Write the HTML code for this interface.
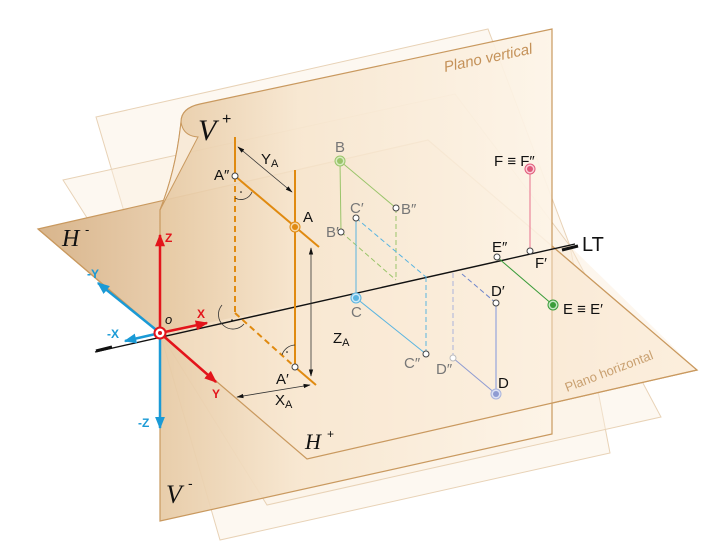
<!DOCTYPE html>
<html><head><meta charset="utf-8"><style>
html,body{margin:0;padding:0;background:#fff}
svg{display:block}
text{font-family:"Liberation Sans","DejaVu Sans",sans-serif}
.s{font-family:"Liberation Serif",serif;font-style:italic}
</style></head><body>
<svg width="725" height="558" viewBox="0 0 725 558" xmlns="http://www.w3.org/2000/svg">
<defs>
<linearGradient id="gv" x1="160" y1="0" x2="552" y2="0" gradientUnits="userSpaceOnUse">
<stop offset="0" stop-color="#e6c9a3"/><stop offset="0.35" stop-color="#f7e6cf"/><stop offset="1" stop-color="#fdf4e7"/></linearGradient>
<linearGradient id="gh" x1="38" y1="0" x2="697" y2="0" gradientUnits="userSpaceOnUse">
<stop offset="0" stop-color="#d8b58c"/><stop offset="0.3" stop-color="#f2dcc0"/><stop offset="1" stop-color="#fdf1e2"/></linearGradient>
<marker id="ar" viewBox="0 0 10 10" refX="9" refY="5" markerWidth="5" markerHeight="5" orient="auto"><path d="M0,1 L10,5 L0,9 z" fill="#e3141b"/></marker>
<marker id="ab" viewBox="0 0 10 10" refX="9" refY="5" markerWidth="5" markerHeight="5" orient="auto"><path d="M0,1 L10,5 L0,9 z" fill="#1a9ad6"/></marker>
<marker id="ak" viewBox="0 0 10 10" refX="9" refY="5" markerWidth="9" markerHeight="9" orient="auto"><path d="M0,2 L10,5 L0,8 z" fill="#111"/></marker>
<marker id="aks" viewBox="0 0 10 10" refX="1" refY="5" markerWidth="9" markerHeight="9" orient="auto"><path d="M10,2 L0,5 L10,8 z" fill="#111"/></marker>
</defs>
<!-- ghost planes -->
<g fill="#fbefe0" fill-opacity="0.45" stroke="#e8d2b6" stroke-width="1">
<polygon points="96,117 488,29 570,246 160,333"/>
<polygon points="63,180 455,94 570,246 160,333"/>
<polygon points="160,333 570,246 610,453 220,540"/>
<polygon points="160,333 570,246 661,417 267,505"/>
</g>
<!-- horizontal plane -->
<polygon points="38,229 428,140 697,370 307,459" fill="url(#gh)" stroke="#c9995f" stroke-width="1.2"/>
<!-- vertical plane -->
<path d="M160,521 L552,434 L552,29 L200,104 Q181,108 181,122 Q176,170 160,210 Z" fill="url(#gv)" fill-opacity="0.92" stroke="#c9995f" stroke-width="1.2"/>
<path d="M160,210 L198,137 Q183,136 181,122 Q176,170 160,210 Z" fill="#f8ead8" stroke="#c9995f" stroke-width="1"/>
<!-- H plane front part overlay -->
<polygon points="160,333 570,246 697,370 307,459" fill="#fbecd8" fill-opacity="0.45"/>
<polyline points="38,229 160,333 307,459 697,370 552,246" fill="none" stroke="#c9995f" stroke-width="1.2"/>
<!-- text labels planes -->
<text x="445" y="72" font-size="15" font-style="italic" fill="#c49158" transform="rotate(-12 445 72)">Plano vertical</text>
<text x="567" y="392" font-size="13" fill="#c9a070" transform="rotate(-21 567 392)">Plano horizontal</text>
<text class="s" x="198" y="140" font-size="30" fill="#111">V</text><text x="222" y="124" font-size="16" fill="#111">+</text>
<text class="s" x="62" y="246" font-size="24" fill="#111">H</text><text x="85" y="234" font-size="13" fill="#111">-</text>
<text class="s" x="305" y="449" font-size="22" fill="#111">H</text><text x="327" y="438" font-size="12" fill="#111">+</text>
<text class="s" x="166" y="503" font-size="26" fill="#111">V</text><text x="188" y="488" font-size="14" fill="#111">-</text>
<!-- LT -->
<line x1="95" y1="352" x2="575" y2="244" stroke="#111" stroke-width="1.4"/>
<line x1="96" y1="351" x2="112" y2="347" stroke="#111" stroke-width="3"/>
<line x1="562" y1="250" x2="578" y2="246" stroke="#111" stroke-width="3"/>
<text x="582" y="251" font-size="20" fill="#111">LT</text>
<!-- A construction -->
<g stroke="#e08a10" stroke-width="2" fill="none">
<line x1="235" y1="137" x2="235" y2="176"/>
<line x1="235" y1="176" x2="235" y2="313" stroke-dasharray="6,4"/>
<line x1="295" y1="170" x2="295" y2="367"/>
<line x1="235" y1="176" x2="319" y2="247"/>
<line x1="235" y1="313" x2="295" y2="367" stroke-dasharray="6,4"/>
<line x1="295" y1="367" x2="316" y2="385"/>
</g>
<g stroke="#333" stroke-width="0.8" fill="none">
<path d="M235,198 A12,12 0 0 0 252,192"/>
<path d="M222,305 A14,14 0 0 0 244,324"/>
<path d="M295,345 A14,14 0 0 0 282,355"/>
<line x1="238" y1="147" x2="292" y2="192" marker-end="url(#ak)" marker-start="url(#aks)"/>
<line x1="311" y1="376" x2="311" y2="248" marker-end="url(#ak)" marker-start="url(#aks)"/>
<line x1="237" y1="397" x2="310" y2="385" marker-end="url(#ak)" marker-start="url(#aks)"/>
</g>
<circle cx="241" cy="192" r="0.8" fill="#000"/><circle cx="232" cy="320" r="0.8" fill="#000"/><circle cx="287" cy="352" r="0.8" fill="#000"/>
<!-- B C D E F -->
<g fill="none" stroke-width="1">
<line x1="340" y1="161" x2="396" y2="208" stroke="#9ac46a"/>
<line x1="340" y1="161" x2="341" y2="232" stroke="#9ac46a"/>
<line x1="396" y1="208" x2="396" y2="280" stroke="#9ac46a" stroke-dasharray="5,3"/>
<line x1="341" y1="232" x2="396" y2="280" stroke="#9ac46a" stroke-dasharray="5,3"/>
<line x1="356" y1="218" x2="356" y2="298" stroke="#5ab4e0"/>
<line x1="356" y1="298" x2="426" y2="354" stroke="#5ab4e0"/>
<line x1="356" y1="218" x2="426" y2="277" stroke="#5ab4e0" stroke-dasharray="5,3"/>
<line x1="426" y1="277" x2="426" y2="354" stroke="#5ab4e0" stroke-dasharray="5,3"/>
<line x1="453" y1="358" x2="453" y2="270" stroke="#a9b4dc" stroke-dasharray="5,3"/>
<line x1="453" y1="358" x2="496" y2="394" stroke="#8f9cd2"/>
<line x1="496" y1="303" x2="496" y2="394" stroke="#a9b4dc" stroke-width="1.5"/>
<line x1="496" y1="303" x2="462" y2="274" stroke="#6f86cc" stroke-dasharray="5,3"/>
<line x1="497" y1="257" x2="553" y2="305" stroke="#3a9c3a"/>
<line x1="530" y1="251" x2="530" y2="169" stroke="#e8708c"/>
</g>
<!-- points -->
<g stroke-width="1">
<circle cx="295" cy="227" r="5" fill="#f6d8a8" stroke="#e08a10"/><circle cx="295" cy="227" r="3" fill="#e08a10"/>
<circle cx="340" cy="161" r="5" fill="#d8ecc0" stroke="#9ac46a"/><circle cx="340" cy="161" r="3" fill="#9ac46a"/>
<circle cx="356" cy="298" r="5" fill="#cde9f8" stroke="#5ab4e0"/><circle cx="356" cy="298" r="3" fill="#5ab4e0"/>
<circle cx="496" cy="394" r="5" fill="#dde2f4" stroke="#a9b4dc"/><circle cx="496" cy="394" r="3" fill="#8f9cd2"/>
<circle cx="553" cy="305" r="5" fill="#c4e6c4" stroke="#3a9c3a"/><circle cx="553" cy="305" r="3" fill="#3a9c3a"/>
<circle cx="530" cy="169" r="5" fill="#fbd0da" stroke="#e05a7a"/><circle cx="530" cy="169" r="3" fill="#e05a7a"/>
<g fill="#fff" stroke="#444">
<circle cx="235" cy="176" r="3"/><circle cx="295" cy="367" r="3"/>
<circle cx="396" cy="208" r="3"/><circle cx="341" cy="232" r="3"/>
<circle cx="356" cy="218" r="3"/><circle cx="426" cy="354" r="3"/>
<circle cx="453" cy="358" r="3" stroke="#bbb"/><circle cx="496" cy="303" r="3"/>
<circle cx="497" cy="257" r="3"/><circle cx="530" cy="251" r="3"/>
</g>
</g>
<!-- labels -->
<g font-size="15" fill="#111">
<text x="214" y="180">A″</text><text x="303" y="222">A</text><text x="276" y="384">A′</text>
<text x="261" y="164">Y<tspan font-size="11" dy="3">A</tspan></text>
<text x="333" y="343">Z<tspan font-size="11" dy="3">A</tspan></text>
<text x="275" y="405">X<tspan font-size="11" dy="3">A</tspan></text>
<text x="494" y="166">F ≡ F″</text>
<text x="492" y="252">E″</text><text x="535" y="268">F′</text>
<text x="491" y="296">D′</text><text x="563" y="314">E ≡ E′</text>
<text x="498" y="388">D</text>
</g>
<g font-size="15" fill="#777">
<text x="335" y="152">B</text><text x="401" y="214">B″</text><text x="326" y="237">B′</text>
<text x="350" y="213">C′</text><text x="351" y="317">C</text><text x="404" y="368">C″</text>
<text x="436" y="374">D″</text>
</g>
<!-- axes -->
<g stroke-width="2.5" fill="none">
<line x1="160" y1="333" x2="160" y2="235" stroke="#e3141b" marker-end="url(#ar)"/>
<line x1="160" y1="333" x2="207" y2="323" stroke="#e3141b" marker-end="url(#ar)"/>
<line x1="160" y1="333" x2="216" y2="382" stroke="#e3141b" marker-end="url(#ar)"/>
<line x1="160" y1="333" x2="160" y2="428" stroke="#1a9ad6" marker-end="url(#ab)"/>
<line x1="160" y1="333" x2="125" y2="341" stroke="#1a9ad6" marker-end="url(#ab)"/>
<line x1="160" y1="333" x2="98" y2="283" stroke="#1a9ad6" marker-end="url(#ab)"/>
</g>
<circle cx="160" cy="333" r="5.5" fill="#fff" stroke="#e3141b" stroke-width="2"/><circle cx="160" cy="333" r="2" fill="#e3141b"/>
<g font-size="12" font-weight="bold">
<text x="165" y="242" fill="#e3141b">Z</text><text x="197" y="318" fill="#e3141b">X</text><text x="212" y="398" fill="#e3141b">Y</text>
<text x="138" y="427" fill="#1a9ad6">-Z</text><text x="107" y="338" fill="#1a9ad6">-X</text><text x="87" y="278" fill="#1a9ad6">-Y</text>
</g>
<text x="165" y="324" font-size="13" font-style="italic" fill="#111">o</text>
</svg>
</body></html>
